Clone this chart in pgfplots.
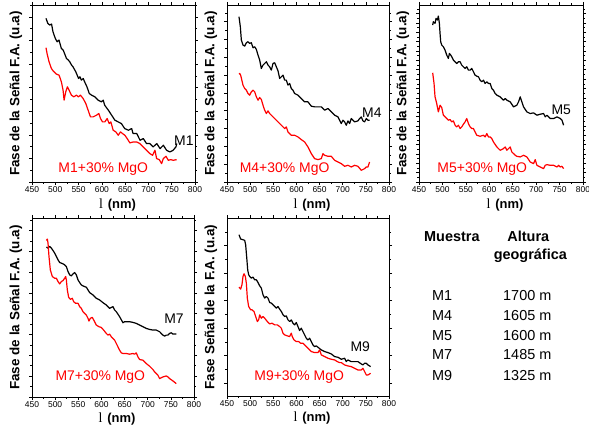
\documentclass[border=0pt]{standalone}
\usepackage{fontspec}
\setmainfont{Liberation Sans}
\newfontfamily\seriffont{Liberation Serif}
\usepackage{pgfplots}
\pgfplotsset{compat=1.18}
\tikzset{lbl/.style={font=\fontsize{14}{16}\selectfont, inner sep=0pt}}
\pgfplotsset{
  panel/.style={
    scale only axis, anchor=south west,
    xmin=450, xmax=800, xtick distance=50, minor x tick num=1,
    ymin=0, yticklabel=\empty,
    tick align=outside, major tick length=3bp, minor tick length=1.6bp,
    axis line style={line width=0.8bp},
    every tick/.style={black, line width=0.6bp},
    /pgf/number format/assume math mode=true,
    /pgf/number format/set thousands separator={},
    xticklabel style={font=\fontsize{8.5}{9}\selectfont, inner sep=1.5bp},
    xlabel={{\seriffont\mdseries\fontsize{14}{15}\selectfont l}\hspace{5bp}\textbf{(nm)}},
    xlabel style={at={(axis description cs:0.5,0)}, anchor=center, yshift=-23bp, xshift=4bp, font=\fontsize{13}{15}\selectfont},
    ylabel style={at={(axis description cs:0,0.5)}, anchor=center, yshift=16bp, font=\bfseries\fontsize{13.5}{15}\selectfont},
    clip=false,
  },
  blk/.style={black, line width=1.2bp, line join=round, no marks},
  rd/.style={red, line width=1.2bp, line join=round, no marks},
}
\begin{document}
\begin{tikzpicture}
\path[use as bounding box] (0,0) rectangle (589bp,429bp);

% ---------------- Panel M1 ----------------
\begin{axis}[panel, at={(32bp,247bp)}, width=163bp, height=177bp, ymax=530,
  ytick distance=70.6, minor y tick num=1,
  ylabel={Fase de la Señal F.A. (u.a)}]
\addplot[blk] coordinates {
(480,490)(484,475)(488,470)(492,473)(495,450)(500,430)(504,420)(508,425)(513,400)(517,395)
(524,370)(528,365)(531,360)(535,350)(538,345)(544,330)(550,310)(553,315)(556,305)(560,310)
(563,300)(568,285)(573,265)(578,260)(585,255)(592,245)(599,240)(603,245)(606,230)(614,215)
(621,200)(628,185)(635,180)(642,175)(649,160)(657,155)(664,160)(667,145)(675,145)(682,125)
(689,130)(696,115)(703,115)(710,105)(718,115)(725,100)(732,110)(739,95)(746,90)(753,95)
(759,105)(761,115)};
\addplot[rd] coordinates {
(480.1,402)(482.3,385)(486.6,360)(491.6,340)(495.2,333)(502.4,323)(508.1,320)(513.1,300)
(516.7,275)(518.9,245)(522.5,270)(526,285)(529.6,275)(534.6,260)(539.7,255)(545.4,260)
(549.7,255)(554,260)(559.8,250)(565.5,235)(570.5,215)(575.5,195)(581.3,195)(588.4,200)
(593.5,205)(597.1,190)(601.4,180)(606.4,180)(611.4,190)(615.7,175)(619.3,180)(624.3,155)
(630.1,150)(635.1,140)(640.1,150)(644.4,145)(649.4,140)(654.4,130)(660.2,117)(667.4,120)
(674.5,120)(681.7,115)(688.9,105)(696,95)(703.2,85)(708.9,80)(714,95)(717.6,70)(723.3,67)
(728.3,55)(731.9,70)(737.7,77)(742.7,65)(747.7,67)(753.4,65)(760.6,67)};
\node[lbl, black] at (axis cs:776,125) {M1};
\node[lbl, red] at (axis cs:603,40) {M1+30\% MgO};
\end{axis}

% ---------------- Panel M4 ----------------
\begin{axis}[panel, at={(227bp,247bp)}, width=162bp, height=177bp, ymax=530,
  ytick distance=53.3, minor y tick num=1,
  ylabel={Fase de la Señal F.A. (u.a)}]
\addplot[blk] coordinates {
(475.9,495)(478.8,465)(481,425)(484.6,410)(488.2,407)(491.8,417)(495.4,420)(499,415)(502.6,417)
(506.2,402)(509.8,405)(513.4,397)(517,380)(520.6,365)(524.2,340)(527.8,350)(531.4,355)(535,360)
(538.6,350)(542.2,345)(545.8,335)(549.4,355)(553,357)(556.6,345)(560.2,333)(563.8,310)(567.4,315)
(571,320)(574.6,305)(578.1,305)(581.7,290)(585.3,295)(588.9,280)(592.5,275)(596.1,265)(603.3,260)
(610.5,250)(617.7,240)(624.9,240)(632.1,227)(639.3,225)(646.5,225)(653.7,225)(660.9,215)(668.1,220)
(675.3,210)(682.5,200)(689.7,195)(696.9,175)(700.5,185)(704.1,180)(707.7,170)(711.3,183)(714.9,175)
(718.5,190)(725.7,180)(732.9,183)(736.5,190)(740.1,195)(743.7,183)(747.3,180)(750.9,190)(754.5,185)
(758.1,185)};
\addplot[rd] coordinates {
(475.9,323)(477.4,325)(479.5,320)(484.6,290)(488.2,280)(491.8,275)(495.4,265)(499,260)(502.6,270)
(506.2,275)(509.8,270)(513.4,255)(517,245)(520.6,253)(524.2,247)(527.8,230)(531.4,215)(535,205)
(538.6,213)(542.2,205)(545.8,200)(553,190)(560.2,180)(567.4,170)(574.6,160)(578.1,165)(581.7,150)
(588.9,140)(596.1,140)(603.3,135)(610.5,127)(617.7,120)(624.9,105)(632.1,85)(639.3,70)(646.5,67)
(653.7,70)(657.3,85)(660.9,80)(668.1,77)(675.3,77)(682.5,65)(689.7,60)(696.9,55)(704.1,47)
(711.3,50)(718.5,45)(725.7,50)(732.9,47)(740.1,35)(747.3,40)(750.9,45)(754.5,45)(758.1,60)};
\node[lbl, black] at (axis cs:763,207) {M4};
\node[lbl, red] at (axis cs:574.5,40) {M4+30\% MgO};
\end{axis}

% ---------------- Panel M5 ----------------
\begin{axis}[panel, at={(419bp,247bp)}, width=164bp, height=177bp, ymax=530,
  ytick distance=28, minor y tick num=1,
  ylabel={Fase de la Señal F.A. (u.a)}]
\addplot[blk] coordinates {
(479.2,470)(480.6,480)(484.2,475)(486.4,490)(489.2,485)(491.3,497)(493.5,475)(494.9,445)(496.3,420)
(498.5,410)(502,405)(505.6,395)(509.2,380)(512.7,370)(514.9,385)(517.7,380)(519.8,375)(523.4,365)
(527,360)(530.5,355)(534.1,360)(537.7,360)(541.2,350)(544.8,345)(548.4,340)(551.9,345)(555.5,335)
(559.1,335)(562.6,340)(566.2,330)(569.7,320)(573.3,317)(576.9,315)(580.4,305)(584,300)(587.6,305)
(591.1,295)(594.7,300)(598.3,295)(601.8,295)(605.4,280)(608.9,275)(612.5,265)(616.1,260)(623.2,255)
(630.3,245)(633.9,250)(637.5,245)(644.6,240)(651.7,225)(658.8,230)(662.4,240)(666,255)(669.5,240)
(673.1,225)(680.2,210)(687.3,205)(694.5,207)(701.6,200)(708.7,203)(715.9,205)(719.4,195)(723,200)
(730.1,190)(737.2,190)(744.4,195)(751.5,190)(755.1,185)(758.6,170)};
\addplot[rd] coordinates {
(479.2,327)(482.1,295)(484.2,255)(487.8,235)(491.3,210)(494.9,230)(498.5,223)(502,200)(505.6,195)
(509.2,190)(512.7,185)(516.3,187)(519.8,180)(523.4,183)(527,170)(530.5,165)(534.1,170)(537.7,160)
(541.2,165)(544.8,173)(548.4,180)(551.9,190)(555.5,175)(559.1,165)(562.6,160)(566.2,160)(569.7,150)
(573.3,140)(580.4,137)(587.6,140)(591.1,135)(594.7,145)(598.3,135)(601.8,135)(605.4,130)(608.9,120)
(616.1,105)(623.2,95)(630.3,100)(633.9,105)(637.5,95)(641,100)(644.6,105)(648.1,90)(651.7,85)
(655.3,80)(658.8,77)(666,75)(673.1,80)(680.2,75)(687.3,60)(694.5,55)(698,67)(701.6,50)(708.7,45)
(715.9,40)(719.4,50)(723,52)(730.1,50)(737.2,50)(744.4,45)(748,50)(751.5,45)(755.1,47)(758.6,40)};
\node[lbl, black] at (axis cs:753.6,215) {M5};
\node[lbl, red] at (axis cs:585,40) {M5+30\% MgO};
\end{axis}

% ---------------- Panel M7 ----------------
\begin{axis}[panel, at={(32bp,32bp)}, width=162bp, height=179bp, ymax=535,
  ytick distance=62.2, minor y tick num=1,
  xlabel style={yshift=0.5bp},
  ylabel={Fase de la Señal F.A. (u.a)}]
\addplot[blk] coordinates {
(481,448)(484.6,445)(488.2,450)(491.8,445)(495.4,438)(499,430)(502.6,420)(506.2,410)(509.8,402)
(513.4,400)(517,398)(520.6,395)(524.2,390)(527.8,375)(531.4,365)(535,362)(538.6,368)(542.2,372)
(545.8,365)(549.4,350)(553,342)(556.6,335)(560.2,332)(567.4,328)(571,320)(574.6,312)(581.7,305)
(588.9,295)(596.1,290)(603.3,282)(610.5,275)(617.7,265)(624.9,270)(628.5,260)(632.1,255)(639.3,240)
(646.5,222)(650.1,225)(653.7,225)(660.9,225)(668.1,223)(675.3,220)(682.5,215)(689.7,210)(696.9,205)
(704.1,202)(711.3,200)(718.5,200)(725.7,195)(732.9,185)(736.5,182)(740.1,185)(743.7,185)(747.3,190)
(750.9,192)(754.5,188)(761.7,188)};
\addplot[rd] coordinates {
(481,468)(483.1,472)(484.6,460)(486.7,420)(489.6,380)(493.9,360)(499,355)(502.6,355)(506.2,345)
(509.8,338)(513.4,345)(517,348)(520.6,355)(522.7,360)(524.2,350)(526.3,320)(529.2,298)(532.8,292)
(537.1,295)(540,285)(544.3,280)(549.4,280)(553,270)(556.6,265)(560.2,255)(563.8,250)(567.4,245)
(571,235)(573.1,227)(576,235)(580.3,238)(585.3,225)(588.9,215)(594.7,210)(599.7,208)(604.8,200)
(610.5,190)(614.1,185)(617.7,188)(621.3,180)(624.9,175)(628.5,170)(632.1,160)(635.7,150)(639.3,140)
(642.9,132)(646.5,130)(653.7,130)(660.9,128)(668.1,130)(671.7,128)(675.3,132)(678.9,120)(682.5,112)
(689.7,110)(696.9,100)(704.1,92)(711.3,82)(714.9,75)(718.5,70)(722.1,65)(725.7,55)(732.9,60)
(740.1,63)(743.7,60)(747.3,55)(754.5,48)(761.7,40)};
\node[lbl, black] at (axis cs:756.7,235) {M7};
\node[lbl, red] at (axis cs:597.6,60) {M7+30\% MgO};
\end{axis}

% ---------------- Panel M9 ----------------
\begin{axis}[panel, at={(227bp,33bp)}, width=162bp, height=178bp, ymax=533,
  ytick={38,120.4,202.8,285.2,367.6,450},
  minor ytick={79.2,161.6,244,326.4,408.8,491.2},
  xlabel style={yshift=0.5bp},
  ylabel={Fase Señal de la F.A. (u.a)}]
\addplot[blk] coordinates {
(475.9,483)(479.5,470)(484.6,468)(488.2,466)(490.3,453)(491.8,428)(493.3,403)(494.7,378)(496.8,363)
(499,358)(502.6,353)(506.2,356)(509.8,348)(513.4,348)(517,340)(520.6,330)(524.2,323)(527.8,303)
(531.4,293)(535,298)(538.6,293)(542.2,280)(545.8,278)(549.4,273)(553,268)(556.6,263)(560.2,268)
(563.8,260)(567.4,253)(571,243)(574.6,238)(578.1,240)(581.7,228)(585.3,223)(588.9,228)(592.5,218)
(596.1,213)(599.7,220)(603.3,208)(606.9,196)(610.5,203)(614.1,193)(617.7,183)(621.3,173)(624.9,168)
(628.5,173)(632.1,163)(635.7,153)(639.3,148)(642.9,150)(646.5,146)(653.7,138)(660.9,133)(668.1,130)
(675.3,126)(682.5,118)(689.7,116)(696.9,110)(704.1,113)(707.7,103)(711.3,108)(718.5,103)(725.7,103)
(732.9,103)(740.1,96)(743.7,93)(747.3,98)(750.9,98)(754.5,93)(760.3,88)};
\addplot[rd] coordinates {
(475.9,326)(479.5,320)(482.3,333)(484.6,358)(486.7,366)(489.6,358)(491.8,338)(493.9,293)(496.8,268)
(501.1,258)(504,258)(508.3,253)(511.9,238)(515.5,223)(518.4,228)(520.6,243)(524.2,233)(527.8,238)
(531.4,233)(537.1,223)(542.2,216)(547.2,218)(553,213)(558.7,213)(563.8,208)(567.4,203)(571,188)
(574.6,183)(580.3,180)(585.3,178)(588.9,188)(591,178)(594.7,168)(599.7,163)(604.8,163)(609.1,158)
(614.1,158)(617.7,153)(624.9,143)(632.1,133)(639.3,130)(646.5,130)(650.1,138)(653.7,123)(660.9,118)
(668.1,113)(675.3,110)(682.5,108)(688.3,103)(693.3,100)(696.9,100)(704.1,93)(711.3,90)(718.5,88)
(725.7,83)(732.9,78)(740.1,78)(743.7,83)(747.3,73)(750.9,63)(754.5,63)(760.3,68)};
\node[lbl, black] at (axis cs:738,148) {M9};
\node[lbl, red] at (axis cs:606,58) {M9+30\% MgO};
\end{axis}

% ---------------- Table ----------------
\begin{scope}[every node/.style={inner sep=0pt, font=\fontsize{14.5}{17}\selectfont}]
\node[anchor=west, font=\bfseries\fontsize{14.5}{17}\selectfont] at (424bp,192.3bp) {Muestra};
\node[font=\bfseries\fontsize{14.5}{17}\selectfont] at (528.3bp,192.3bp) {Altura};
\node[font=\bfseries\fontsize{14.5}{17}\selectfont] at (530.3bp,173bp) {geográfica};
\node[anchor=west] at (432bp,133bp) {M1};
\node[anchor=west] at (432bp,113.7bp) {M4};
\node[anchor=west] at (432bp,93bp) {M5};
\node[anchor=west] at (432bp,74bp) {M7};
\node[anchor=west] at (432bp,53.3bp) {M9};
\node[anchor=west] at (503bp,133bp) {1700 m};
\node[anchor=west] at (503bp,113.7bp) {1605 m};
\node[anchor=west] at (503bp,93bp) {1600 m};
\node[anchor=west] at (503bp,74bp) {1485 m};
\node[anchor=west] at (503bp,53.3bp) {1325 m};
\end{scope}
\end{tikzpicture}
\end{document}
